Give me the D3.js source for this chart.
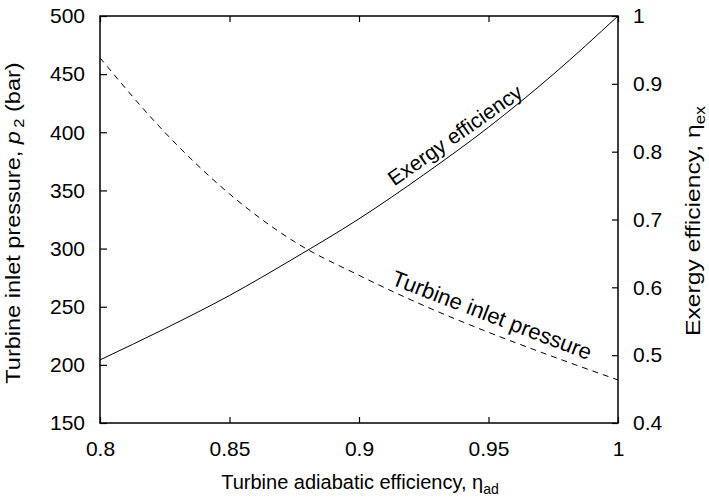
<!DOCTYPE html>
<html>
<head>
<meta charset="utf-8">
<script src="https://cdn.jsdelivr.net/npm/d3@7"></script>
<style>
  body { margin: 0; background: #fff; }
  svg { font-family: "Liberation Sans", Arial, sans-serif; }
</style>
</head>
<body>
<svg width="709" height="498"></svg>
<script>
// values
var etaAd = [0.8, 0.825, 0.85, 0.875, 0.9, 0.925, 0.95, 0.975, 1.0];
var pressure = [464, 400, 347, 306, 277, 251, 228, 207, 187];        // bar, left axis
var exergyEff = [0.493, 0.539, 0.588, 0.643, 0.701, 0.766, 0.836, 0.914, 1.0]; // right axis

var xTicks = [0.8, 0.85, 0.9, 0.95, 1];
var yLeftTicks = [150, 200, 250, 300, 350, 400, 450, 500];
var yRightTicks = [0.4, 0.5, 0.6, 0.7, 0.8, 0.9, 1];

var svg = d3.select("svg");
// plot box (note: "top" is a reserved window prop, so use other names)
var plotL = 100, plotR = 618, plotT = 16, plotB = 423;

var x = d3.scaleLinear().domain([0.8, 1]).range([plotL, plotR]);
var yL = d3.scaleLinear().domain([150, 500]).range([plotB, plotT]);
var yR = d3.scaleLinear().domain([0.4, 1]).range([plotB, plotT]);

var fmt = function(d) { return String(+d.toFixed(2)); };

// axes with inward ticks
svg.append("g")
   .attr("transform", "translate(0," + plotB + ")")
   .call(d3.axisBottom(x).tickValues(xTicks).tickFormat(fmt).tickSizeInner(-6).tickSizeOuter(0).tickPadding(18));
svg.append("g")
   .attr("transform", "translate(0," + plotT + ")")
   .call(d3.axisTop(x).tickValues(xTicks).tickFormat("").tickSizeInner(-6).tickSizeOuter(0));
svg.append("g")
   .attr("transform", "translate(" + plotL + ",0)")
   .call(d3.axisLeft(yL).tickValues(yLeftTicks).tickSizeInner(-7).tickSizeOuter(0).tickPadding(15));
svg.append("g")
   .attr("transform", "translate(" + plotR + ",0)")
   .call(d3.axisRight(yR).tickValues(yRightTicks).tickFormat(fmt).tickSizeInner(-6).tickSizeOuter(0).tickPadding(15));

svg.selectAll(".domain").remove();
svg.selectAll(".tick line").attr("stroke", "#000").attr("stroke-width", 1.2);
svg.selectAll(".tick text")
   .attr("fill", "#000")
   .style("font-size", "21px")
   .style("font-family", "'Liberation Sans', Arial, sans-serif");

// frame
svg.append("rect")
   .attr("x", plotL).attr("y", plotT)
   .attr("width", plotR - plotL).attr("height", plotB - plotT)
   .attr("fill", "none").attr("stroke", "#000").attr("stroke-width", 1.5);

// curves
var pts = etaAd.map(function(e, i) { return { e: e, p: pressure[i], ex: exergyEff[i] }; });

svg.append("path")
   .datum(pts)
   .attr("fill", "none").attr("stroke", "#000").attr("stroke-width", 1)
   .attr("stroke-dasharray", "6,5")
   .attr("d", d3.line().curve(d3.curveMonotoneX)
                .x(function(d) { return x(d.e); })
                .y(function(d) { return yL(d.p); }));

svg.append("path")
   .datum(pts)
   .attr("fill", "none").attr("stroke", "#000").attr("stroke-width", 1)
   .attr("d", d3.line().curve(d3.curveMonotoneX)
                .x(function(d) { return x(d.e); })
                .y(function(d) { return yR(d.ex); }));

// curve labels
svg.append("text")
   .attr("transform", "translate(455,135) rotate(-35)")
   .attr("text-anchor", "middle")
   .attr("dy", "0.35em")
   .style("font-size", "21px")
   .text("Exergy efficiency");

svg.append("text")
   .attr("transform", "translate(492,315) rotate(21)")
   .attr("text-anchor", "middle")
   .attr("dy", "0.35em")
   .style("font-size", "22px")
   .text("Turbine inlet pressure");

// axis titles
var xt = svg.append("text")
   .attr("x", 360).attr("y", 489)
   .attr("text-anchor", "middle")
   .style("font-size", "20px");
xt.append("tspan").text("Turbine adiabatic efficiency, \u03b7");
xt.append("tspan").attr("dy", 5).style("font-size", "14px").text("ad");

// rotated titles are stretched along their run to span what the reference spans
function fitAlong(sel, cx, cy, target) {
  var w = sel.node().getComputedTextLength();
  sel.attr("transform", "translate(" + cx + "," + cy + ") rotate(-90) scale(" + (target / w) + ",1)");
}

var ylt = svg.append("text")
   .attr("text-anchor", "middle")
   .style("font-size", "20px");
ylt.append("tspan").text("Turbine inlet pressure, ");
ylt.append("tspan").style("font-style", "italic").text("p");
ylt.append("tspan").attr("dy", 4).attr("dx", 3).style("font-size", "14px").text("2");
ylt.append("tspan").attr("dy", -4).text(" (bar)");
fitAlong(ylt, 20, 223, 318);

var yrt = svg.append("text")
   .attr("text-anchor", "middle")
   .style("font-size", "20px");
yrt.append("tspan").text("Exergy efficiency, \u03b7");
yrt.append("tspan").attr("dy", 5).style("font-size", "14px").text("ex");
fitAlong(yrt, 700, 221, 230);
</script>
</body>
</html>
